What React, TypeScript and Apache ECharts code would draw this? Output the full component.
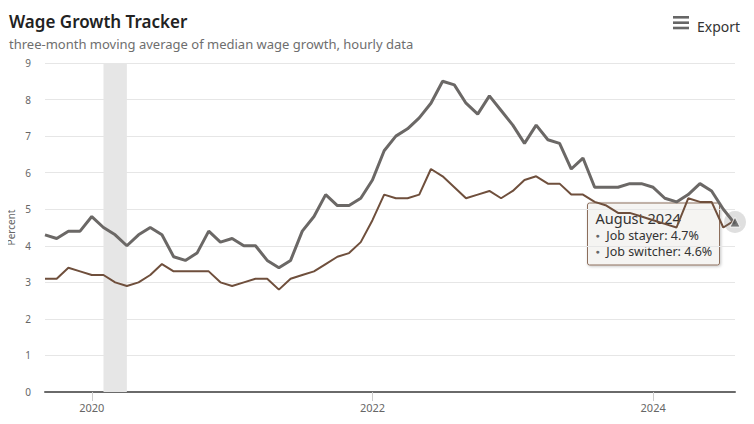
import React, { useEffect, useRef } from "react";
import * as echarts from "echarts";

const months: string[] = [
  "2019-09", "2019-10", "2019-11", "2019-12",
  "2020-01", "2020-02", "2020-03", "2020-04", "2020-05", "2020-06", "2020-07", "2020-08", "2020-09", "2020-10", "2020-11", "2020-12",
  "2021-01", "2021-02", "2021-03", "2021-04", "2021-05", "2021-06", "2021-07", "2021-08", "2021-09", "2021-10", "2021-11", "2021-12",
  "2022-01", "2022-02", "2022-03", "2022-04", "2022-05", "2022-06", "2022-07", "2022-08", "2022-09", "2022-10", "2022-11", "2022-12",
  "2023-01", "2023-02", "2023-03", "2023-04", "2023-05", "2023-06", "2023-07", "2023-08", "2023-09", "2023-10", "2023-11", "2023-12",
  "2024-01", "2024-02", "2024-03", "2024-04", "2024-05", "2024-06", "2024-07", "2024-08",
];

const jobSwitcher: number[] = [
  4.3, 4.2, 4.4, 4.4,
  4.8, 4.5, 4.3, 4.0, 4.3, 4.5, 4.3, 3.7, 3.6, 3.8, 4.4, 4.1,
  4.2, 4.0, 4.0, 3.6, 3.4, 3.6, 4.4, 4.8, 5.4, 5.1, 5.1, 5.3,
  5.8, 6.6, 7.0, 7.2, 7.5, 7.9, 8.5, 8.4, 7.9, 7.6, 8.1, 7.7,
  7.3, 6.8, 7.3, 6.9, 6.8, 6.1, 6.4, 5.6, 5.6, 5.6, 5.7, 5.7,
  5.6, 5.3, 5.2, 5.4, 5.7, 5.5, 5.0, 4.6,
];

const jobStayer: number[] = [
  3.1, 3.1, 3.4, 3.3,
  3.2, 3.2, 3.0, 2.9, 3.0, 3.2, 3.5, 3.3, 3.3, 3.3, 3.3, 3.0,
  2.9, 3.0, 3.1, 3.1, 2.8, 3.1, 3.2, 3.3, 3.5, 3.7, 3.8, 4.1,
  4.7, 5.4, 5.3, 5.3, 5.4, 6.1, 5.9, 5.6, 5.3, 5.4, 5.5, 5.3,
  5.5, 5.8, 5.9, 5.7, 5.7, 5.4, 5.4, 5.2, 5.1, 4.9, 4.9, 4.8,
  4.7, 4.6, 4.5, 5.3, 5.2, 5.2, 4.5, 4.7,
];

const yearTicks: string[] = ["2020-01", "2022-01", "2024-01"];
const recession: [string, string] = ["2020-02", "2020-04"];
const hoverMonth = "2024-08";
const hoverLabel = "August 2024";

const FONT = "'Noto Sans', 'Open Sans', sans-serif";

export default function App() {
  const ref = useRef<HTMLDivElement>(null);

  useEffect(() => {
    if (!ref.current) return;
    const chart = echarts.init(ref.current, undefined, { renderer: "svg" });
    const hoverIdx = months.indexOf(hoverMonth);
    const showYear = (_i: number, v: string) => yearTicks.includes(v);
    const hoverY = (jobStayer[hoverIdx] + jobSwitcher[hoverIdx]) / 2;

    chart.setOption({
      animation: false,
      backgroundColor: "#ffffff",
      textStyle: { fontFamily: FONT },
      grid: { left: 45, right: 19, top: 63, bottom: 32, containLabel: false, outerBoundsMode: "none" },
      xAxis: {
        type: "category",
        data: months,
        boundaryGap: false,
        axisLine: { lineStyle: { color: "#6a6a6a", width: 2 } },
        axisTick: { show: true, interval: showYear, length: 9, lineStyle: { color: "#cccccc" } },
        axisLabel: {
          interval: showYear,
          formatter: (v: string) => v.slice(0, 4),
          color: "#666",
          fontSize: 11,
          margin: 10,
          fontFamily: FONT,
        },
        splitLine: { show: false },
      },
      yAxis: {
        type: "value",
        min: 0,
        max: 9,
        interval: 1,
        name: "Percent",
        nameLocation: "middle",
        nameRotate: 90,
        nameGap: 29,
        nameMoveOverlap: false,
        nameTextStyle: { color: "#666", fontSize: 10, fontFamily: FONT },
        axisLine: { show: false },
        axisTick: { show: false },
        axisLabel: { color: "#666", fontSize: 10, margin: 14, fontFamily: FONT },
        splitLine: { lineStyle: { color: "#e6e6e6", width: 1 } },
      },
      series: [
        {
          name: "Job switcher",
          type: "line",
          data: jobSwitcher,
          showSymbol: false,
          lineStyle: { color: "#6b6866", width: 3 },
          itemStyle: { color: "#6b6866" },
          z: 3,
          markArea: {
            silent: true,
            itemStyle: { color: "#e6e6e6" },
            data: [[{ xAxis: recession[0] }, { xAxis: recession[1] }]],
          },
        },
        {
          name: "Job stayer",
          type: "line",
          data: jobStayer,
          showSymbol: false,
          lineStyle: { color: "#6f4f3c", width: 2 },
          itemStyle: { color: "#6f4f3c" },
          z: 4,
        },
        {
          name: "halo",
          type: "scatter",
          data: [[hoverMonth, hoverY]],
          symbol: "circle",
          symbolSize: 22,
          itemStyle: { color: "rgba(110,110,110,0.28)" },
          z: 5,
          silent: true,
        },
        {
          name: "marker",
          type: "scatter",
          data: [[hoverMonth, hoverY]],
          symbol: "triangle",
          symbolSize: 10,
          itemStyle: { color: "#5a5a5a", borderColor: "#ffffff", borderWidth: 1 },
          z: 6,
          silent: true,
        },
      ],
      graphic: [
        {
          type: "rect",
          shape: { x: -3, y: 1, width: 754, height: 440, r: 4 },
          style: { fill: "none", stroke: "#c8c8c8", lineWidth: 1.5 },
          silent: true,
          z: 100,
        },
        {
          type: "text",
          x: 9,
          y: 21,
          style: {
            text: "Wage Growth Tracker",
            font: `600 17px ${FONT}`,
            fill: "#222",
            verticalAlign: "middle",
          },
        },
        {
          type: "text",
          x: 9,
          y: 44,
          style: {
            text: "three-month moving average of median wage growth, hourly data",
            font: `13px ${FONT}`,
            fill: "#6e6e6e",
            verticalAlign: "middle",
          },
        },
        { type: "rect", shape: { x: 673, y: 16, width: 16, height: 2.6 }, style: { fill: "#666" } },
        { type: "rect", shape: { x: 673, y: 21.4, width: 16, height: 2.6 }, style: { fill: "#666" } },
        { type: "rect", shape: { x: 673, y: 26.7, width: 16, height: 2.6 }, style: { fill: "#666" } },
        {
          type: "text",
          x: 697,
          y: 26,
          style: { text: "Export", font: `14px ${FONT}`, fill: "#333", verticalAlign: "middle" },
        },
        {
          type: "group",
          x: 587.5,
          y: 203,
          z: 50,
          children: [
            {
              type: "rect",
              shape: { x: 0, y: 0, width: 132, height: 62, r: 2 },
              style: {
                fill: "rgba(247,246,244,0.88)",
                stroke: "#8c6e5c",
                lineWidth: 1,
                shadowBlur: 3,
                shadowColor: "rgba(0,0,0,0.25)",
                shadowOffsetX: 1,
                shadowOffsetY: 1,
              },
            },
            {
              type: "text",
              x: 8,
              y: 15,
              style: { text: hoverLabel, font: `14.5px ${FONT}`, fill: "#333", verticalAlign: "middle" },
            },
            {
              type: "text",
              x: 8,
              y: 32,
              style: {
                text: `{d|●}  Job stayer: ${jobStayer[hoverIdx].toFixed(1)}%`,
                font: `12.5px ${FONT}`,
                fill: "#333",
                verticalAlign: "middle",
                rich: { d: { fill: "#666", fontSize: 7, fontFamily: FONT } },
              },
            },
            {
              type: "text",
              x: 8,
              y: 48,
              style: {
                text: `{d|●}  Job switcher: ${jobSwitcher[hoverIdx].toFixed(1)}%`,
                font: `12.5px ${FONT}`,
                fill: "#333",
                verticalAlign: "middle",
                rich: { d: { fill: "#666", fontSize: 7, fontFamily: FONT } },
              },
            },
          ],
        },
      ],
    });

    return () => chart.dispose();
  }, []);

  return <div ref={ref} style={{ width: 754, height: 424, margin: -8 }} />;
}
